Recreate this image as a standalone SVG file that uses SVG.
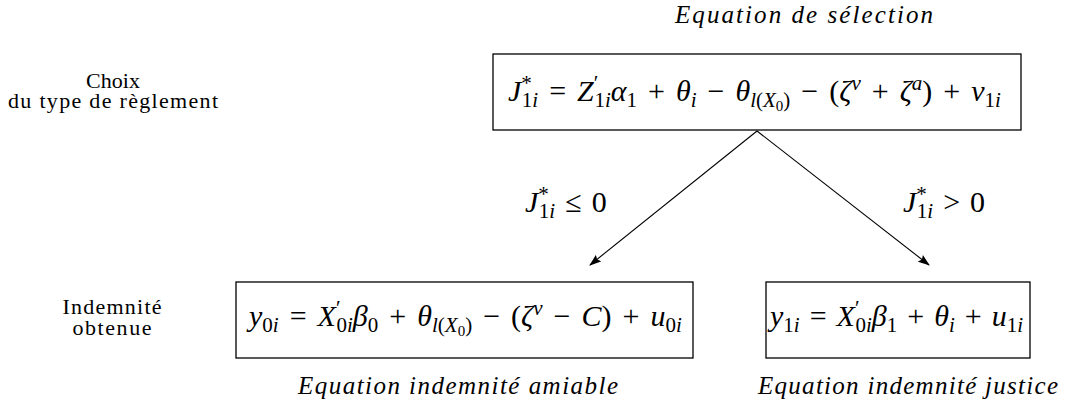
<svg xmlns="http://www.w3.org/2000/svg" width="1070" height="413" viewBox="0 0 1070 413" font-family="'Liberation Serif', 'DejaVu Serif', serif">
<style>
text{font-family:"Liberation Serif","DejaVu Serif",serif;fill:#000}
.i{font-style:italic}
.lab{font-size:22px}
.cap{font-size:25px;font-style:italic}
.m{font-size:30px}
.s{font-size:21px}
.ss{font-size:15px}
.box{fill:#fff;stroke:#000;stroke-width:1.3}
.c{stroke:#000;stroke-width:1.1;fill:none}
</style>
<defs>
<marker id="ah" markerWidth="12" markerHeight="10" refX="11" refY="5" orient="auto" markerUnits="userSpaceOnUse">
<path d="M0,0.8 L12,5 L0,9.2 L2,5 z" fill="#000"/>
</marker>
</defs>
<g id="labels-left">
<text class="lab" x="113" y="88" text-anchor="middle">Choix</text>
<text class="lab" x="113" y="108" text-anchor="middle" textLength="210">du type de règlement</text>
<text class="lab" x="112" y="314" text-anchor="middle" textLength="99">Indemnité</text>
<text class="lab" x="112" y="335" text-anchor="middle" textLength="79">obtenue</text>
</g>
<g id="connectors">
<line class="c" x1="757" y1="131" x2="590" y2="265" marker-end="url(#ah)"/>
<line class="c" x1="757" y1="131" x2="929" y2="265" marker-end="url(#ah)"/>
<text class="m" x="525" y="212"><tspan class="i">J</tspan><tspan class="s" dy="-11">*</tspan><tspan class="s" dx="-10" dy="17">1<tspan class="i">i</tspan></tspan><tspan dy="-6" dx="10">≤</tspan><tspan dx="10">0</tspan></text>
<text class="m" x="903" y="212"><tspan class="i">J</tspan><tspan class="s" dy="-11">*</tspan><tspan class="s" dx="-10" dy="17">1<tspan class="i">i</tspan></tspan><tspan dy="-6" dx="10">&gt;</tspan><tspan dx="10">0</tspan></text>
</g>
<g id="selection">
<text class="cap" x="675" y="23" textLength="258">Equation de sélection</text>
<rect class="box" x="493" y="54" width="528" height="76"/>
<text class="m" x="508" y="101"><tspan class="i">J</tspan><tspan class="s" dy="-11">*</tspan><tspan class="s" dx="-10" dy="17">1<tspan class="i">i</tspan></tspan><tspan dy="-6" dx="11">=</tspan><tspan class="i" dx="11">Z</tspan><tspan class="s" dy="-11">′</tspan><tspan class="s" dx="-4" dy="17">1<tspan class="i">i</tspan></tspan><tspan class="i" dy="-6">α</tspan><tspan class="s" dy="6">1</tspan><tspan dy="-6" dx="11">+</tspan><tspan class="i" dx="11">θ</tspan><tspan class="s i" dy="6">i</tspan><tspan dy="-6" dx="11">−</tspan><tspan class="i" dx="11">θ</tspan><tspan class="s" dy="6"><tspan class="i">l</tspan>(<tspan class="i">X</tspan></tspan><tspan class="ss" dy="4">0</tspan><tspan class="s" dy="-4">)</tspan><tspan dy="-6" dx="11">−</tspan><tspan dx="11">(</tspan><tspan class="i">ζ</tspan><tspan class="s i" dy="-11">v</tspan><tspan dy="11" dx="11">+</tspan><tspan class="i" dx="11">ζ</tspan><tspan class="s i" dy="-11">a</tspan><tspan dy="11">)</tspan><tspan dx="11">+</tspan><tspan class="i" dx="11">v</tspan><tspan class="s" dy="6">1<tspan class="i">i</tspan></tspan></text>
</g>
<g id="amiable">
<rect class="box" x="236" y="282" width="457" height="76"/>
<text class="m" x="249" y="326"><tspan class="i">y</tspan><tspan class="s" dy="6">0<tspan class="i">i</tspan></tspan><tspan dy="-6" dx="11">=</tspan><tspan class="i" dx="11">X</tspan><tspan class="s" dy="-11">′</tspan><tspan class="s" dx="-4" dy="17">0<tspan class="i">i</tspan></tspan><tspan class="i" dy="-6">β</tspan><tspan class="s" dy="6">0</tspan><tspan dy="-6" dx="11">+</tspan><tspan class="i" dx="11">θ</tspan><tspan class="s" dy="6"><tspan class="i">l</tspan>(<tspan class="i">X</tspan></tspan><tspan class="ss" dy="4">0</tspan><tspan class="s" dy="-4">)</tspan><tspan dy="-6" dx="11">−</tspan><tspan dx="11">(</tspan><tspan class="i">ζ</tspan><tspan class="s i" dy="-11">v</tspan><tspan dy="11" dx="11">−</tspan><tspan class="i" dx="11">C</tspan><tspan>)</tspan><tspan dx="11">+</tspan><tspan class="i" dx="11">u</tspan><tspan class="s" dy="6">0<tspan class="i">i</tspan></tspan></text>
<text class="cap" x="298" y="394" textLength="320">Equation indemnité amiable</text>
</g>
<g id="justice">
<rect class="box" x="766" y="282" width="264" height="76"/>
<text class="m" x="770" y="326"><tspan class="i">y</tspan><tspan class="s" dy="6">1<tspan class="i">i</tspan></tspan><tspan dy="-6" dx="10">=</tspan><tspan class="i" dx="10">X</tspan><tspan class="s" dy="-11">′</tspan><tspan class="s" dx="-4" dy="17">0<tspan class="i">i</tspan></tspan><tspan class="i" dy="-6">β</tspan><tspan class="s" dy="6">1</tspan><tspan dy="-6" dx="10">+</tspan><tspan class="i" dx="10">θ</tspan><tspan class="s i" dy="6">i</tspan><tspan dy="-6" dx="10">+</tspan><tspan class="i" dx="10">u</tspan><tspan class="s" dy="6">1<tspan class="i">i</tspan></tspan></text>
<text class="cap" x="758" y="394" textLength="300">Equation indemnité justice</text>
</g>
</svg>
